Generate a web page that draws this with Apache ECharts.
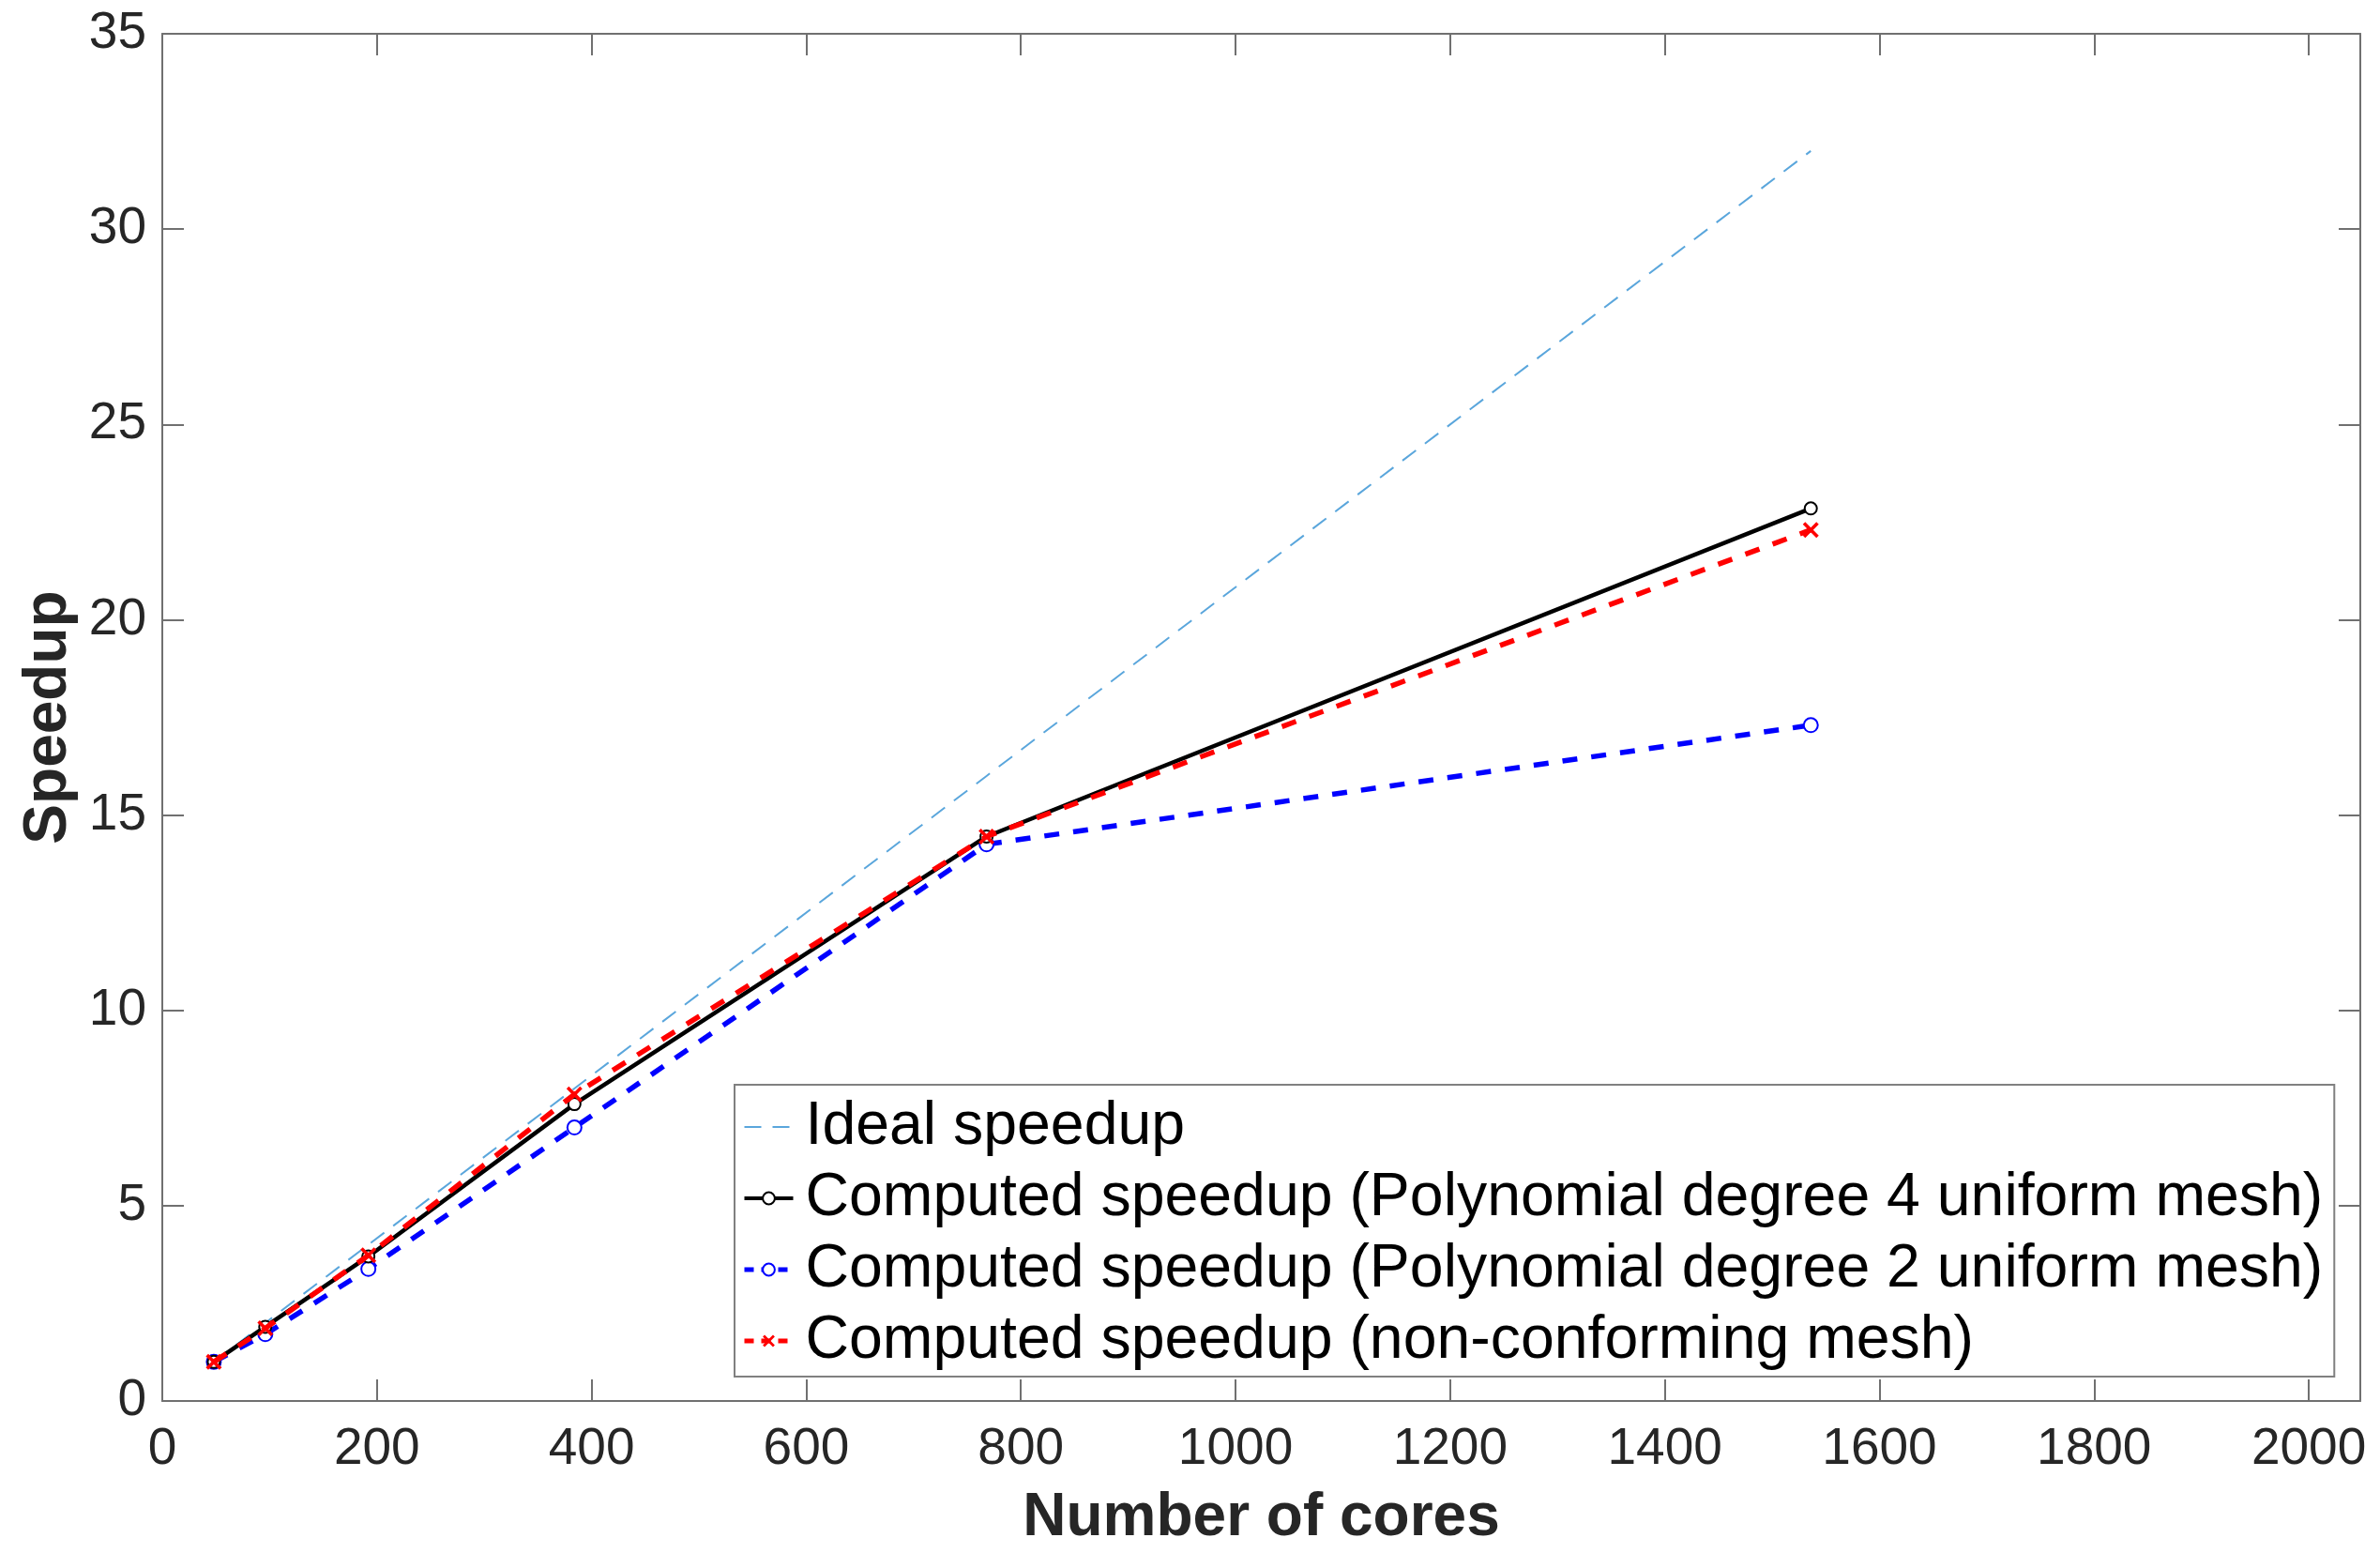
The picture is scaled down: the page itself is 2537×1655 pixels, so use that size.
<!DOCTYPE html>
<html>
<head>
<meta charset="utf-8">
<script src="https://cdn.jsdelivr.net/npm/echarts@6/dist/echarts.min.js"></script>
<style>
html,body{margin:0;padding:0;background:#fff;}
#chart{width:2537px;height:1655px;}
</style>
</head>
<body>
<div id="chart"></div>
<script>
const cores = [48, 96, 192, 384, 768, 1536];
const ideal = [1, 2, 4, 8, 16, 32];
const deg4 = [1, 1.9, 3.7, 7.6, 14.45, 22.85];
const deg2 = [1, 1.71, 3.38, 7.0, 14.25, 17.3];
const nonconf = [1, 1.86, 3.73, 7.85, 14.45, 22.3];
const seriesNames = [
  'Ideal speedup',
  'Computed speedup (Polynomial degree 4 uniform mesh)',
  'Computed speedup (Polynomial degree 2 uniform mesh)',
  'Computed speedup (non-conforming mesh)'
];
const xTicks = [0, 200, 400, 600, 800, 1000, 1200, 1400, 1600, 1800, 2000];
const yTicks = [0, 5, 10, 15, 20, 25, 30, 35];

const pairs = (ys) => cores.map((c, i) => [c, ys[i]]);
const FONT = '"Liberation Sans", Arial, Helvetica, sans-serif';
const AX = '#707070';
const IDEAL_C = '#5aa6dc';
const crossPath = 'path://M1.5,0 L5,3.5 L8.5,0 L10,1.5 L6.5,5 L10,8.5 L8.5,10 L5,6.5 L1.5,10 L0,8.5 L3.5,5 L0,1.5 Z';

const chart = echarts.init(document.getElementById('chart'), null, {renderer: 'canvas'});
const axisCommon = () => ({
  axisLine: {show: true, onZero: false, lineStyle: {color: AX, width: 2}},
  axisTick: {show: true, inside: true, length: 23, lineStyle: {color: AX, width: 2}},
  splitLine: {show: false}
});
chart.setOption({
  animation: false,
  backgroundColor: '#fff',
  grid: {left: 173, top: 36, width: 2343, height: 1457, containLabel: false},
  xAxis: [
    Object.assign({
      type: 'value', min: 0, max: 2048, interval: 200, position: 'bottom',
      name: 'Number of cores', nameLocation: 'middle', nameGap: 93,
      nameTextStyle: {fontFamily: FONT, fontSize: 64, fontWeight: 'bold', color: '#262626'},
      axisLabel: {fontFamily: FONT, fontSize: 55, color: '#262626', margin: 24,
        formatter: v => xTicks.indexOf(v) >= 0 ? String(v) : ''}
    }, axisCommon()),
    Object.assign({
      type: 'value', min: 0, max: 2048, interval: 200, position: 'top',
      axisLabel: {show: false}
    }, axisCommon())
  ],
  yAxis: [
    Object.assign({
      type: 'value', min: 0, max: 35, interval: 5, position: 'left',
      name: 'Speedup', nameLocation: 'middle', nameGap: 84, nameRotate: 90,
      nameTextStyle: {fontFamily: FONT, fontSize: 64, fontWeight: 'bold', color: '#262626'},
      axisLabel: {fontFamily: FONT, fontSize: 55, color: '#262626', margin: 17,
        formatter: v => yTicks.indexOf(v) >= 0 ? String(v) : ''}
    }, axisCommon()),
    Object.assign({
      type: 'value', min: 0, max: 35, interval: 5, position: 'right',
      axisLabel: {show: false}
    }, axisCommon())
  ],
  legend: {
    orient: 'vertical', left: 783, top: 1156,
    backgroundColor: '#fff', borderColor: '#808080', borderWidth: 2,
    padding: [13, 12, 6, 8],
    itemWidth: 52, itemHeight: 16, itemGap: 12,
    textStyle: {fontFamily: FONT, fontSize: 64.4, color: '#000', padding: [0, 0, 0, 8]},
    data: [
      {name: seriesNames[0],
       itemStyle: {color: 'rgba(0,0,0,0)', borderColor: 'rgba(0,0,0,0)', opacity: 0},
       lineStyle: {color: IDEAL_C, width: 2, type: [18, 12]}},
      {name: seriesNames[1], lineStyle: {color: '#000', width: 4}},
      {name: seriesNames[2], lineStyle: {color: '#0000ff', width: 5, type: [10, 8]}},
      {name: seriesNames[3], lineStyle: {color: '#ff0000', width: 5, type: [10, 8]}}
    ]
  },
  series: [
    {
      name: seriesNames[0], type: 'line', data: pairs(ideal), symbol: 'none',
      lineStyle: {color: IDEAL_C, width: 2, type: [18, 12]},
      itemStyle: {color: IDEAL_C}, z: 1
    },
    {
      name: seriesNames[1], type: 'line', data: pairs(deg4),
      symbol: 'emptyCircle', symbolSize: 13,
      lineStyle: {color: '#000', width: 4.5},
      itemStyle: {color: '#000', borderColor: '#000', borderWidth: 3.5}, z: 3
    },
    {
      name: seriesNames[2], type: 'line', data: pairs(deg2),
      symbol: 'emptyCircle', symbolSize: 15,
      lineStyle: {color: '#0000ff', width: 5.5, type: [16, 15]},
      itemStyle: {color: '#0000ff', borderColor: '#0000ff', borderWidth: 4}, z: 2
    },
    {
      name: seriesNames[3], type: 'line', data: pairs(nonconf),
      symbol: crossPath, symbolSize: 17,
      lineStyle: {color: '#ff0000', width: 5.5, type: [16, 15]},
      itemStyle: {color: '#ff0000'}, z: 4
    }
  ]
});
</script>
</body>
</html>
